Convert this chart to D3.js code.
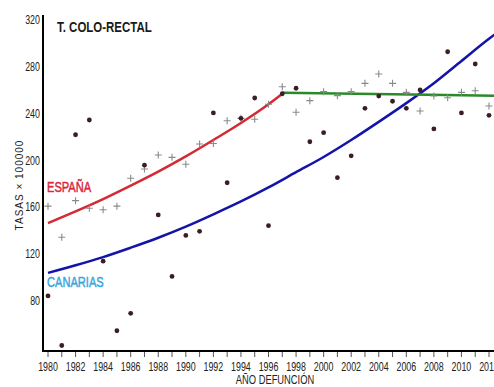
<!DOCTYPE html>
<html><head><meta charset="utf-8">
<script src="https://cdn.jsdelivr.net/npm/d3@7"></script>
<style>
body{margin:0;background:#fff;}
svg{display:block;}
text{font-family:"Liberation Sans",Arial,sans-serif;}
</style></head>
<body>
<svg id="c" width="494" height="387"></svg>
<script>
const years = d3.range(1980, 2013);
const canarias = [84.3,42,222,234.6,114,54.6,69.5,196,153.5,101,136,139.5,240.6,181,236,253.4,144.3,257,261.7,216,223.8,185.3,204,244.6,255,250.6,244.6,260.2,227,292.9,240.6,282.4,238.6];
const espana = [161,134.4,165.7,159.2,158,161,184.8,192.7,204.7,202.7,196.8,214.1,214.5,234,236,235.2,248,263,241.2,251.1,258.8,255.4,258.8,265.9,273.9,265.9,258.2,242.3,255.1,253.6,258.2,259.6,246.6];
const trendEspYears = [1980,1982,1984,1986,1988,1990,1992,1994,1996,1997];
const trendEspVals = [146.5,156.5,167,178.5,190.5,203.5,217.5,232,248,257];
const trendEsp2Years = [1997,2005,2012.4];
const trendEsp2Vals = [257.8,256.5,255.3];
const trendCanYears = [1980,1982,1984,1986,1988,1990,1992,1994,1996,1998,2000,2002,2004,2006,2008,2010,2012,2012.4];
const trendCanVals = [104,110.5,117.5,125.5,134,143.5,154,165,177,190,203,217.5,233,249,266,285,304,307.5];
const yTicks = [80,120,160,200,240,280,320];
const xTicks = d3.range(1980, 2013, 2);

const svg = d3.select("#c");
const x = d3.scaleLinear().domain([1980, 2012]).range([48, 489]);
const y = d3.scaleLinear().domain([80, 320]).range([301, 20]);
const left = 43, bottom = 351;

function ctext(sel, tx, ty, s, str){
  return sel.append("text").attr("transform",`translate(${tx},${ty}) scale(${s},1)`).text(str);
}

svg.append("defs").append("clipPath").attr("id","clip")
  .append("rect").attr("x",left).attr("y",0).attr("width",494-left).attr("height",bottom);
const plot = svg.append("g").attr("clip-path","url(#clip)");

// X axis
const xAxis = svg.append("g").attr("transform",`translate(0,${bottom})`);
xAxis.append("line").attr("x1",left).attr("x2",494).attr("y1",0).attr("y2",0)
  .attr("stroke","#000").attr("stroke-width",2);
xAxis.selectAll(".mt").data(years).join("line")
  .attr("x1",d=>x(d)).attr("x2",d=>x(d)).attr("y1",1).attr("y2",6)
  .attr("stroke","#555").attr("stroke-width",1);
xAxis.selectAll(".xl").data(xTicks).join("text")
  .attr("transform",d=>`translate(${x(d)},19.5) scale(0.74,1)`)
  .attr("text-anchor","middle").attr("font-size",12).attr("fill","#222").text(d=>d);
ctext(svg, 275, 384, 0.78, "AÑO DEFUNCIÓN").attr("text-anchor","middle")
  .attr("font-size",12).attr("fill","#222");

// Y axis
svg.append("line").attr("x1",left).attr("x2",left).attr("y1",15).attr("y2",bottom+1)
  .attr("stroke","#000").attr("stroke-width",2);
svg.selectAll(".yl").data(yTicks).join("text")
  .attr("transform",d=>`translate(40,${y(d)+4}) scale(0.74,1)`)
  .attr("text-anchor","end").attr("font-size",12).attr("fill","#222").text(d=>d);
svg.append("text").attr("transform","translate(23,185) rotate(-90)")
  .attr("text-anchor","middle").attr("font-size",10)
  .attr("letter-spacing","1").attr("fill","#222")
  .text("TASAS × 100000");

// Title
ctext(svg, 57, 32, 0.74, "T. COLO-RECTAL").attr("font-size",15.5)
  .attr("font-weight","bold").attr("fill","#1a1a1a");

// Trend lines
const line = d3.line().x(d=>x(d[0])).y(d=>y(d[1])).curve(d3.curveMonotoneX);
plot.append("path").datum(trendCanYears.map((t,i)=>[t,trendCanVals[i]]))
  .attr("d",line).attr("fill","none").attr("stroke","#1414a8").attr("stroke-width",2.5);
plot.append("path").datum(trendEspYears.map((t,i)=>[t,trendEspVals[i]]))
  .attr("d",line).attr("fill","none").attr("stroke","#d42a35").attr("stroke-width",2.5);
plot.append("path").datum(trendEsp2Years.map((t,i)=>[t,trendEsp2Vals[i]]))
  .attr("d",line).attr("fill","none").attr("stroke","#2a8a2a").attr("stroke-width",2.5);

// España crosses
const cr = 3.5;
plot.selectAll(".cx").data(years).join("path")
  .attr("d",(d,i)=>{const cx=x(d), cy=y(espana[i]); return `M${cx-cr},${cy}H${cx+cr}M${cx},${cy-cr}V${cy+cr}`;})
  .attr("stroke","#8a8a8a").attr("stroke-width",1.1).attr("fill","none");

// Canarias dots
plot.selectAll(".dt").data(years).join("circle")
  .attr("cx",d=>x(d)).attr("cy",(d,i)=>y(canarias[i])).attr("r",2.4)
  .attr("fill","#3a1e22");

// Labels
ctext(svg, 47, 192, 0.74, "ESPAÑA").attr("font-size",15).attr("fill","#d8283e")
  .attr("stroke","#d8283e").attr("stroke-width",0.5);
ctext(svg, 47, 287, 0.74, "CANARIAS").attr("font-size",15).attr("fill","#3aa6dc")
  .attr("stroke","#3aa6dc").attr("stroke-width",0.5);
</script>
</body></html>
